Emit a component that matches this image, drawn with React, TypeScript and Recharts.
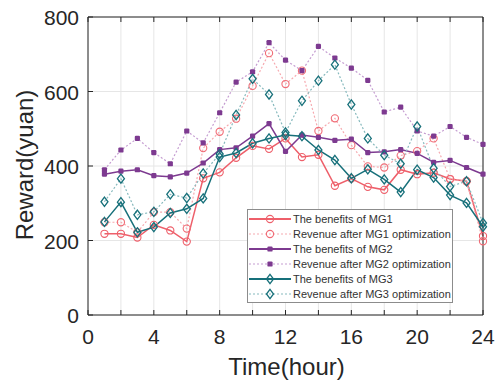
import { CartesianGrid, Legend, Line, LineChart, XAxis, YAxis } from 'recharts';

const hours = [1, 2, 3, 4, 5, 6, 7, 8, 9, 10, 11, 12, 13, 14, 15, 16, 17, 18, 19, 20, 21, 22, 23, 24];
const mg1 = [218, 218, 208, 242, 227, 197, 367, 383, 422, 454, 446, 474, 424, 430, 347, 366, 344, 336, 390, 378, 382, 365, 359, 212];
const mg1Opt = [249, 249, 222, 276, 276, 232, 448, 492, 527, 615, 703, 620, 656, 494, 528, 456, 399, 396, 428, 440, 474, 365, 359, 198];
const mg2 = [378, 386, 390, 374, 371, 381, 408, 444, 449, 480, 514, 439, 483, 477, 469, 472, 436, 438, 444, 434, 410, 415, 396, 378];
const mg2Opt = [390, 443, 474, 436, 406, 494, 462, 543, 625, 653, 731, 684, 656, 721, 690, 663, 630, 545, 558, 494, 480, 506, 477, 458];
const mg3 = [250, 303, 222, 236, 274, 285, 313, 424, 435, 461, 474, 483, 480, 443, 416, 367, 391, 364, 330, 390, 369, 322, 301, 237];
const mg3Opt = [304, 366, 269, 277, 324, 314, 380, 432, 537, 634, 592, 490, 575, 629, 672, 565, 474, 429, 406, 506, 394, 345, 359, 247];

const xTicks = [0, 2, 4, 6, 8, 10, 12, 14, 16, 18, 20, 22, 24];
const yTicks = [0, 200, 400, 600, 800];

const data = hours.map((h, i) => ({
  hour: h,
  mg1: mg1[i],
  mg1Opt: mg1Opt[i],
  mg2: mg2[i],
  mg2Opt: mg2Opt[i],
  mg3: mg3[i],
  mg3Opt: mg3Opt[i],
}));

const AXIS = '#262626';
const FONT = '"Liberation Sans", Arial, Helvetica, sans-serif';

const SERIES = [
  { key: 'mg1', name: 'The benefits of MG1', color: '#EE5F6A', line: '#EE5F6A', marker: 'circle', width: 1.5 },
  { key: 'mg1Opt', name: 'Revenue after MG1 optimization', color: '#F06B75', line: '#F6A9AF', dash: '2 2', marker: 'circle', width: 1.2 },
  { key: 'mg2', name: 'The benefits of MG2', color: '#7D3A90', line: '#7D3A90', marker: 'dot', width: 1.5 },
  { key: 'mg2Opt', name: 'Revenue after MG2 optimization', color: '#7D3A90', line: '#C59DD1', dash: '2 2', marker: 'dot', width: 1.2 },
  { key: 'mg3', name: 'The benefits of MG3', color: '#17707A', line: '#17707A', marker: 'diamond', width: 1.5 },
  { key: 'mg3Opt', name: 'Revenue after MG3 optimization', color: '#17707A', line: '#86B9BD', dash: '2 2', marker: 'diamond', width: 1.2 },
];

const Marker = ({ type, cx, cy, color }: any) => {
  if (cx == null || cy == null) return null;
  if (type === 'circle') {
    return <circle cx={cx} cy={cy} r={3.6} fill="none" stroke={color} strokeWidth={1.1} />;
  }
  if (type === 'dot') {
    return <rect x={cx - 2.6} y={cy - 2.6} width={5.2} height={5.2} rx={1.2} fill={color} />;
  }
  return (
    <polygon
      points={`${cx},${cy - 4.6} ${cx + 3.5},${cy} ${cx},${cy + 4.6} ${cx - 3.5},${cy}`}
      fill="none"
      stroke={color}
      strokeWidth={1.3}
    />
  );
};

const BottomTick = ({ x, y, payload }: any) => (
  <g>
    <line x1={x} y1={y} x2={x} y2={y - 5} stroke={AXIS} />
    {payload.value % 4 === 0 && (
      <text x={x} y={y + 29} textAnchor="middle" fontSize={21} fontFamily={FONT} fill={AXIS}>
        {payload.value}
      </text>
    )}
  </g>
);

const TopTick = ({ x, y }: any) => <line x1={x} y1={y} x2={x} y2={y + 5} stroke={AXIS} />;

const LeftTick = ({ x, y, payload }: any) => (
  <g>
    <line x1={x} y1={y} x2={x + 5} y2={y} stroke={AXIS} />
    <text x={x - 9} y={y + 8} textAnchor="end" fontSize={21} fontFamily={FONT} fill={AXIS}>
      {payload.value}
    </text>
  </g>
);

const RightTick = ({ x, y }: any) => <line x1={x} y1={y} x2={x - 5} y2={y} stroke={AXIS} />;

const XTitle = ({ viewBox }: any) => (
  <text
    x={viewBox.x + viewBox.width / 2 + 1}
    y={viewBox.y + viewBox.height - 7}
    textAnchor="middle"
    fontSize={24}
    fontFamily={FONT}
    fill={AXIS}
  >
    Time(hour)
  </text>
);

const YTitle = ({ viewBox }: any) => {
  const cx = 33;
  const cy = viewBox.y + viewBox.height / 2 - 1;
  return (
    <text
      x={cx}
      y={cy}
      transform={`rotate(-90, ${cx}, ${cy})`}
      textAnchor="middle"
      fontSize={24}
      fontFamily={FONT}
      fill={AXIS}
    >
      Reward(yuan)
    </text>
  );
};

const CustomLegend = () => (
  <div
    style={{
      width: 204,
      border: '1px solid #8c8c8c',
      background: '#fff',
      padding: '2px 0 1px 0',
      fontFamily: FONT,
      fontSize: 11,
      color: '#333',
    }}
  >
    {SERIES.map((s) => (
      <div key={s.key} style={{ display: 'flex', alignItems: 'center', height: 14.9 }}>
        <svg width={44} height={12} style={{ flex: 'none' }}>
          <line x1={1} y1={6} x2={43} y2={6} stroke={s.line} strokeWidth={s.dash ? 1.2 : 2.2} strokeDasharray={s.dash} />
          <Marker type={s.marker} cx={22} cy={6} color={s.color} />
        </svg>
        <span style={{ marginLeft: 1, whiteSpace: 'nowrap' }}>{s.name}</span>
      </div>
    ))}
  </div>
);

export default function App() {
  return (
    <div style={{ position: 'absolute', left: 0, top: 0, background: '#fff' }}>
      <LineChart width={496} height={382} data={data} margin={{ top: 0, right: 0, bottom: 0, left: 0 }}>
        <CartesianGrid xAxisId="b" yAxisId="l" stroke="#e6e6e6" />
        <XAxis
          xAxisId="b"
          dataKey="hour"
          type="number"
          domain={[0, 24]}
          ticks={xTicks}
          interval={0}
          height={67}
          tickSize={0}
          tickMargin={0}
          tick={<BottomTick />}
          axisLine={{ stroke: AXIS }}
          label={<XTitle />}
        />
        <XAxis
          xAxisId="t"
          orientation="top"
          dataKey="hour"
          type="number"
          domain={[0, 24]}
          ticks={xTicks}
          interval={0}
          height={17}
          tickSize={0}
          tickMargin={0}
          tick={<TopTick />}
          axisLine={{ stroke: AXIS }}
        />
        <YAxis
          yAxisId="l"
          type="number"
          domain={[0, 800]}
          ticks={yTicks}
          interval={0}
          width={88}
          tickSize={0}
          tickMargin={0}
          tick={<LeftTick />}
          axisLine={{ stroke: AXIS }}
          label={<YTitle />}
        />
        <YAxis
          yAxisId="r"
          orientation="right"
          type="number"
          domain={[0, 800]}
          ticks={yTicks}
          interval={0}
          width={13}
          tickSize={0}
          tickMargin={0}
          tick={<RightTick />}
          axisLine={{ stroke: AXIS }}
        />
        {SERIES.map((s) => (
          <Line
            key={s.key}
            xAxisId="b"
            yAxisId="l"
            dataKey={s.key}
            name={s.name}
            stroke={s.line}
            strokeWidth={s.width}
            strokeDasharray={s.dash}
            isAnimationActive={false}
            dot={(p: any) => <Marker key={`${s.key}-${p.index}`} type={s.marker} cx={p.cx} cy={p.cy} color={s.color} />}
            activeDot={false}
          />
        ))}
        <Legend
          layout="vertical"
          align="center"
          verticalAlign="middle"
          content={<CustomLegend />}
          wrapperStyle={{ left: 247, top: 209, width: 206 }}
        />
      </LineChart>
    </div>
  );
}
